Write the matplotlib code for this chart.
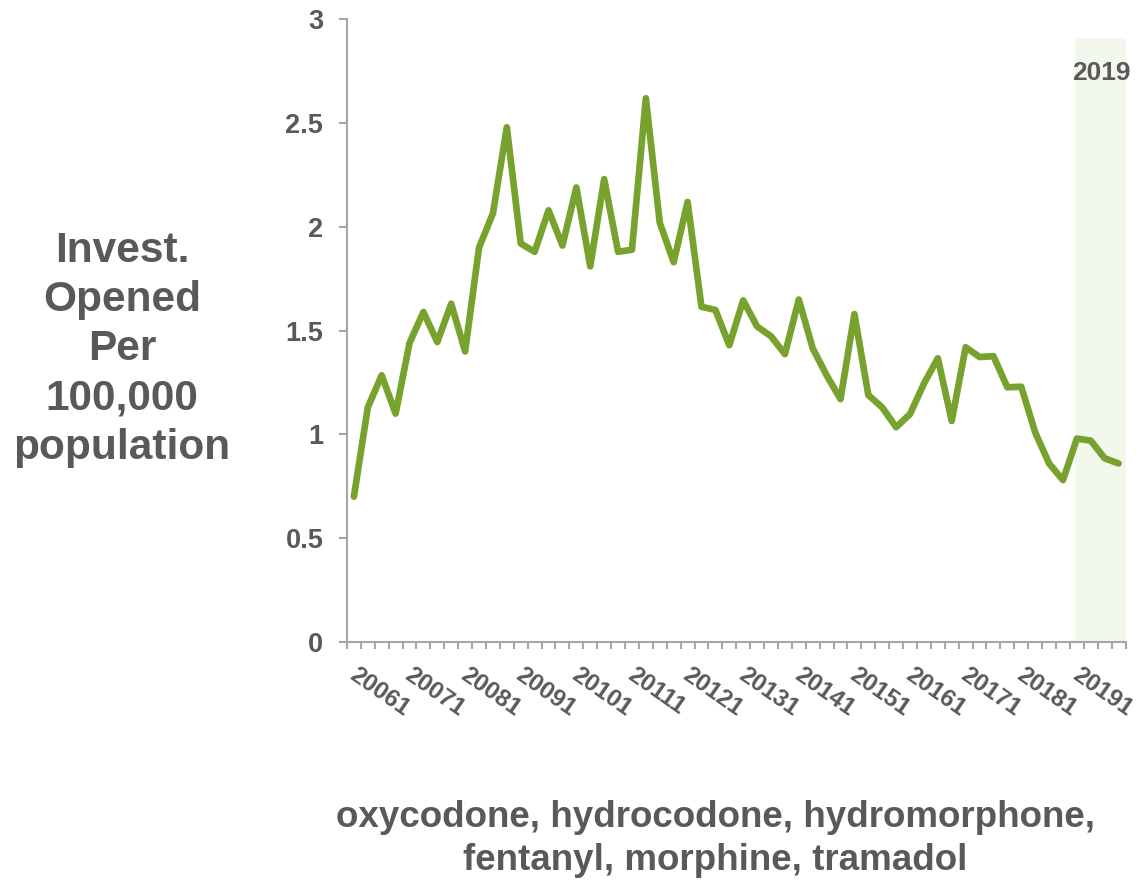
import numpy as np
import matplotlib
matplotlib.use("Agg")
import matplotlib.pyplot as plt
from matplotlib.ticker import FixedLocator, NullFormatter

plt.rcParams['font.family'] = ['Liberation Sans', 'DejaVu Sans']

# Quarterly rate of investigations opened, 2006 Q1 - 2019 Q4
years = list(range(2006, 2020))
quarters = [f"{y}{q}" for y in years for q in range(1, 5)]
rate = [0.70, 1.13, 1.285, 1.10, 1.44, 1.59, 1.445, 1.63,
        1.40, 1.90, 2.065, 2.48, 1.92, 1.88, 2.08, 1.91,
        2.19, 1.81, 2.23, 1.88, 1.89, 2.62, 2.02, 1.83,
        2.12, 1.615, 1.60, 1.43, 1.646, 1.52, 1.473, 1.387,
        1.65, 1.415, 1.285, 1.17, 1.58, 1.19, 1.13, 1.035,
        1.098, 1.245, 1.367, 1.065, 1.42, 1.373, 1.377, 1.227,
        1.23, 1.01, 0.86, 0.78, 0.98, 0.97, 0.885, 0.86]
yticks = [0, 0.5, 1, 1.5, 2, 2.5, 3]
ytick_labels = ['0', '0.5', '1', '1.5', '2', '2.5', '3']
highlight_year = '2019'

grey = '#595959'
axis_grey = '#a6a6a6'
green = '#77a22d'
shade = '#f2f8ec'

fig = plt.figure(figsize=(11.45, 8.8), dpi=100)
ax = fig.add_axes([0.303, 0.2705, 0.680, 0.7075])

x = np.arange(len(rate))

# shaded band for the latest year
first_q = quarters.index(highlight_year + '1')
ax.fill_between([first_q - 0.1, len(rate) - 0.5], 0, 2.91, color=shade, lw=0, zorder=0)
ax.text(first_q + 1.75, 2.74, highlight_year, ha='center', va='center',
        fontsize=19, fontweight='bold', color=grey)

ax.plot(x, rate, color=green, lw=4.8, solid_joinstyle='round',
        solid_capstyle='round', zorder=3)

ax.set_xlim(-0.5, len(rate) - 0.5)
ax.set_ylim(0, 3)

for s in ['top', 'right']:
    ax.spines[s].set_visible(False)
for s in ['left', 'bottom']:
    ax.spines[s].set_color(axis_grey)
    ax.spines[s].set_linewidth(1.5)

ax.set_yticks(yticks)
ax.set_yticklabels(ytick_labels)
ax.tick_params(axis='y', length=6, width=1.5, color=axis_grey, pad=11,
               labelsize=19.5, labelcolor=grey)
for t in ax.get_yticklabels():
    t.set_fontweight('bold')

# tick marks between quarters, labels only on each Q1
ax.xaxis.set_major_locator(FixedLocator(np.arange(-0.5, len(rate))))
ax.xaxis.set_major_formatter(NullFormatter())
ax.tick_params(axis='x', length=5, width=1.5, color=axis_grey)
for i, q in enumerate(quarters):
    if q.endswith('1'):
        ax.annotate(q, xy=(i, 0), xycoords=('data', 'axes fraction'),
                    xytext=(3, -15), textcoords='offset points',
                    rotation=-35, rotation_mode='anchor', ha='left', va='top',
                    fontsize=17.5, fontweight='bold', color=grey,
                    annotation_clip=False)

fig.text(0.1066, 0.603, 'Invest.\nOpened\nPer\n100,000\npopulation',
         ha='center', va='center', fontsize=30.5, fontweight='bold', color=grey,
         linespacing=1.3)
fig.text(0.6245, 0.047, 'oxycodone, hydrocodone, hydromorphone,\nfentanyl, morphine, tramadol',
         ha='center', va='center', fontsize=26.5, fontweight='bold', color=grey,
         linespacing=1.3)

fig.savefig('out.png', dpi=100)
